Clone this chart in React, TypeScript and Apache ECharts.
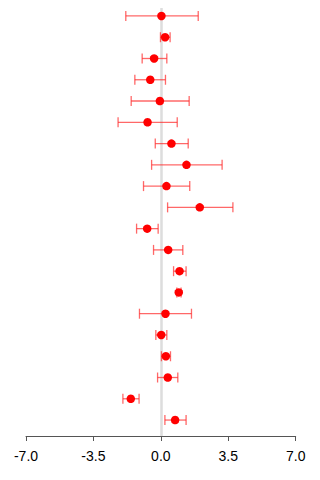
import React, { useEffect, useRef } from "react";
import * as echarts from "echarts";

// Effect estimates per row, listed top to bottom
const estimates = [0.03, 0.22, -0.35, -0.55, -0.05, -0.69, 0.55, 1.33, 0.29, 2.02, -0.71, 0.38, 0.97, 0.93, 0.24, 0.02, 0.26, 0.36, -1.56, 0.74];
const lowerBounds = [-1.82, -0.02, -0.97, -1.35, -1.54, -2.22, -0.29, -0.48, -0.9, 0.35, -1.26, -0.38, 0.66, 0.83, -1.11, -0.26, 0.03, -0.17, -1.97, 0.21];
const upperBounds = [1.94, 0.48, 0.31, 0.24, 1.47, 0.85, 1.42, 3.18, 1.5, 3.74, -0.14, 1.14, 1.31, 1.05, 1.59, 0.31, 0.5, 0.88, -1.13, 1.31];
const xTicks = [-7, -3.5, 0, 3.5, 7];

export default function App() {
  const ref = useRef<HTMLDivElement>(null);

  useEffect(() => {
    if (!ref.current) return;
    const chart = echarts.init(ref.current, undefined, { renderer: "svg" });
    const n = estimates.length;
    const rowY = (i: number) => n - i;

    const points = estimates.map((v, i) => [v, rowY(i)]);
    const intervals = estimates.map((_, i) => [lowerBounds[i], upperBounds[i], rowY(i)]);

    chart.setOption({
      animation: false,
      grid: { left: 26, right: 24.3, top: 0, bottom: 44 },
      xAxis: {
        type: "value",
        min: xTicks[0],
        max: xTicks[xTicks.length - 1],
        interval: 3.5,
        splitLine: { show: false },
        axisLine: { show: true, onZero: false, lineStyle: { color: "#555", width: 1 } },
        axisTick: { show: true, length: 5, lineStyle: { color: "#555" } },
        axisLabel: {
          color: "#000",
          fontSize: 14,
          fontFamily: "Liberation Sans, Arial, sans-serif",
          margin: 13,
          formatter: (v: number) => v.toFixed(1),
        },
      },
      yAxis: {
        type: "value",
        min: 0.25,
        max: 20.75,
        show: false,
      },
      series: [
        {
          type: "custom",
          z: 2,
          data: intervals,
          renderItem: (params: any, api: any) => {
            const lo = api.coord([api.value(0), api.value(2)]);
            const hi = api.coord([api.value(1), api.value(2)]);
            const cap = 5;
            const style = { stroke: "rgba(255,40,40,0.7)", lineWidth: 1.3 };
            return {
              type: "group",
              children: [
                { type: "line", shape: { x1: lo[0], y1: lo[1], x2: hi[0], y2: hi[1] }, style },
                { type: "line", shape: { x1: lo[0], y1: lo[1] - cap, x2: lo[0], y2: lo[1] + cap }, style },
                { type: "line", shape: { x1: hi[0], y1: hi[1] - cap, x2: hi[0], y2: hi[1] + cap }, style },
              ],
            };
          },
        },
        {
          type: "scatter",
          z: 3,
          data: points,
          symbol: "circle",
          symbolSize: 8.5,
          itemStyle: { color: "#ff0000", opacity: 1 },
          markLine: {
            silent: true,
            symbol: "none",
            label: { show: false },
            lineStyle: { color: "#dddddd", width: 2.5, type: "solid" },
            data: [{ xAxis: 0 }],
            z: 1,
          },
        },
      ],
    });
    return () => chart.dispose();
  }, []);

  return <div ref={ref} style={{ width: 320, height: 480, margin: -8 }} />;
}
